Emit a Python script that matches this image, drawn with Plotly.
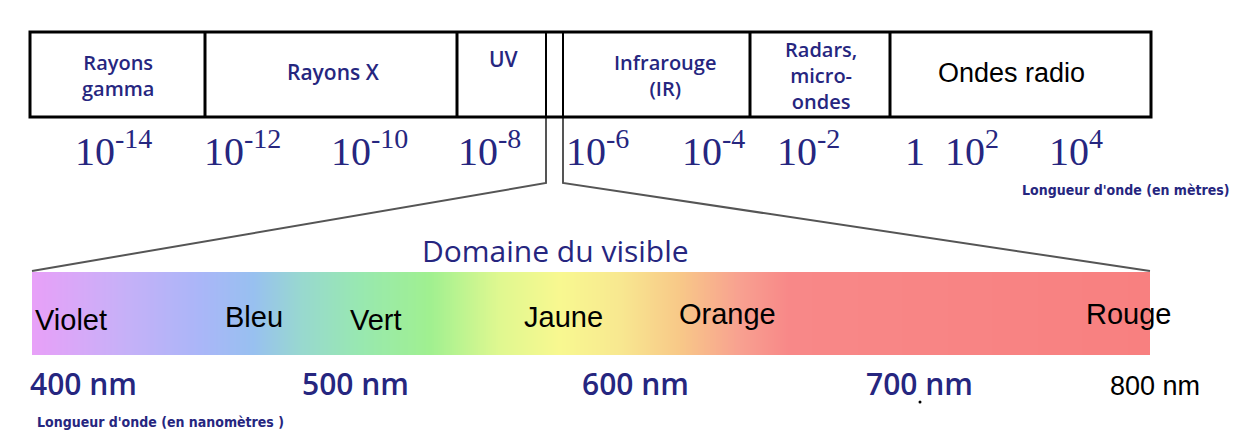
import numpy as np
import plotly.graph_objects as go

# ---------------- data ----------------
band_labels = ["Rayons<br>gamma", "Rayons X", "UV", "Infrarouge<br>(IR)",
               "Radars,<br>micro-<br>ondes", "Ondes radio"]
exponents = [-14, -12, -10, -8, -6, -4, -2, 0, 2, 4]
colour_names = ["Violet", "Bleu", "Vert", "Jaune", "Orange", "Rouge"]
wavelengths_nm = [400, 500, 600, 700, 800]

# ---------------- layout constants (screen pixels) ----------------
W, H = 1241, 441
OFF = 8  # page body margin
NAVY = "#26267f"
BOX_X0, BOX_X1, BOX_Y0, BOX_Y1 = 30, 1151, 32, 117
DIVIDERS = [205, 457, 546, 563, 750, 890]
band_pos = [(118, 75), (333, 72), (504, 59), (665, 75), (821, 75), (1011, 73)]
band_font = [20, 21, 21, 20, 20, 27]
band_col = [NAVY, NAVY, NAVY, NAVY, NAVY, "black"]
tick_left = [73, 202, 329, 456, 564, 680, 775, 903, 943, 1047]
BAR_X0, BAR_X1, BAR_Y0, BAR_Y1 = 32, 1150, 272, 355
colour_left = [33, 223, 348, 522, 677, 1084]
colour_y = [320, 317, 320, 317, 314, 314]
nm_left = [28, 300, 580, 864, 1108]

grad_stops = [(32, "#e8a0f8"), (120, "#c8b0f8"), (200, "#aab6f8"), (253, "#98c0f0"),
              (300, "#98d8d0"), (360, "#98e8b0"), (430, "#a0f090"), (500, "#e0f890"),
              (560, "#f8f890"), (620, "#f8e890"), (680, "#f8c888"), (740, "#f8a090"),
              (790, "#f88888"), (1150, "#f88080")]

fig = go.Figure()

# gradient bar (visible spectrum)
xe = np.linspace(BAR_X0, BAR_X1, 560)
xc = (xe[:-1] + xe[1:]) / 2
cs = [[(p - BAR_X0) / (BAR_X1 - BAR_X0), c] for p, c in grad_stops]
fig.add_trace(go.Heatmap(x=xe, y=[BAR_Y0, BAR_Y1], z=[xc], colorscale=cs,
                         zmin=BAR_X0, zmax=BAR_X1, showscale=False, hoverinfo="skip"))

# zoom lines
fig.add_trace(go.Scatter(x=[DIVIDERS[2], DIVIDERS[2], BAR_X0], y=[BOX_Y1, 183, BAR_Y0 - 1],
                         mode="lines", line=dict(color="#555555", width=2), hoverinfo="skip"))
fig.add_trace(go.Scatter(x=[DIVIDERS[3], DIVIDERS[3], BAR_X1], y=[BOX_Y1, 183, BAR_Y0 - 1],
                         mode="lines", line=dict(color="#555555", width=2), hoverinfo="skip"))
# stray dot
fig.add_trace(go.Scatter(x=[920], y=[402], mode="markers",
                         marker=dict(color="black", size=3), hoverinfo="skip"))

shapes = [dict(type="rect", x0=BOX_X0, x1=BOX_X1, y0=BOX_Y0, y1=BOX_Y1,
               line=dict(color="black", width=3))]
for d in DIVIDERS:
    shapes.append(dict(type="line", x0=d, x1=d, y0=BOX_Y0, y1=BOX_Y1,
                       line=dict(color="black", width=3 if d not in (546, 563) else 2)))

ann = []
for lab, (x, y), fs, col in zip(band_labels, band_pos, band_font, band_col):
    fam = "Open Sans" if col == NAVY else "Liberation Sans"
    ann.append(dict(x=x, y=y, text=lab, showarrow=False, xanchor="center", yanchor="middle",
                    font=dict(family=fam, size=fs, color=col,
                              weight=600 if col == NAVY else 400)))

for e, xl in zip(exponents, tick_left):
    txt = "1" if e == 0 else f"10<sup>{e}</sup>"
    ann.append(dict(x=xl, y=176, text=txt, showarrow=False, xanchor="left", yanchor="bottom",
                    font=dict(family="Liberation Serif", size=40, color=NAVY)))

ann.append(dict(x=1232, y=190, text="Longueur d'onde (en mètres)", showarrow=False,
                xanchor="right", yanchor="middle",
                font=dict(family="DejaVu Sans Condensed, Liberation Sans Narrow, sans-serif",
                          size=14, color=NAVY, weight=600)))

ann.append(dict(x=555, y=250, text="Domaine du visible", showarrow=False,
                xanchor="center", yanchor="middle",
                font=dict(family="Open Sans", size=30, color=NAVY, weight=500)))

for name, xl, y in zip(colour_names, colour_left, colour_y):
    ann.append(dict(x=xl, y=y, text=name, showarrow=False, xanchor="left", yanchor="middle",
                    font=dict(family="Liberation Sans", size=29, color="black")))

for wl, xl in zip(wavelengths_nm, nm_left):
    last = wl == wavelengths_nm[-1]
    ann.append(dict(x=xl, y=386 if last else 383, text=f"{wl} nm", showarrow=False,
                    xanchor="left", yanchor="middle",
                    font=dict(family="Liberation Sans" if last else "Open Sans",
                              size=27 if last else 30, color="black" if last else NAVY,
                              weight=400 if last else 600)))

ann.append(dict(x=35, y=422, text="Longueur d'onde (en nanomètres )", showarrow=False,
                xanchor="left", yanchor="middle",
                font=dict(family="DejaVu Sans Condensed, Liberation Sans Narrow, sans-serif",
                          size=14, color=NAVY, weight=600)))

fig.update_layout(width=W, height=H, margin=dict(l=0, r=0, t=0, b=0),
                  paper_bgcolor="white", plot_bgcolor="white", showlegend=False,
                  shapes=shapes, annotations=ann,
                  xaxis=dict(range=[OFF, W + OFF], visible=False, fixedrange=True),
                  yaxis=dict(range=[H + OFF, OFF], visible=False, fixedrange=True))

fig.write_html("out.html")
